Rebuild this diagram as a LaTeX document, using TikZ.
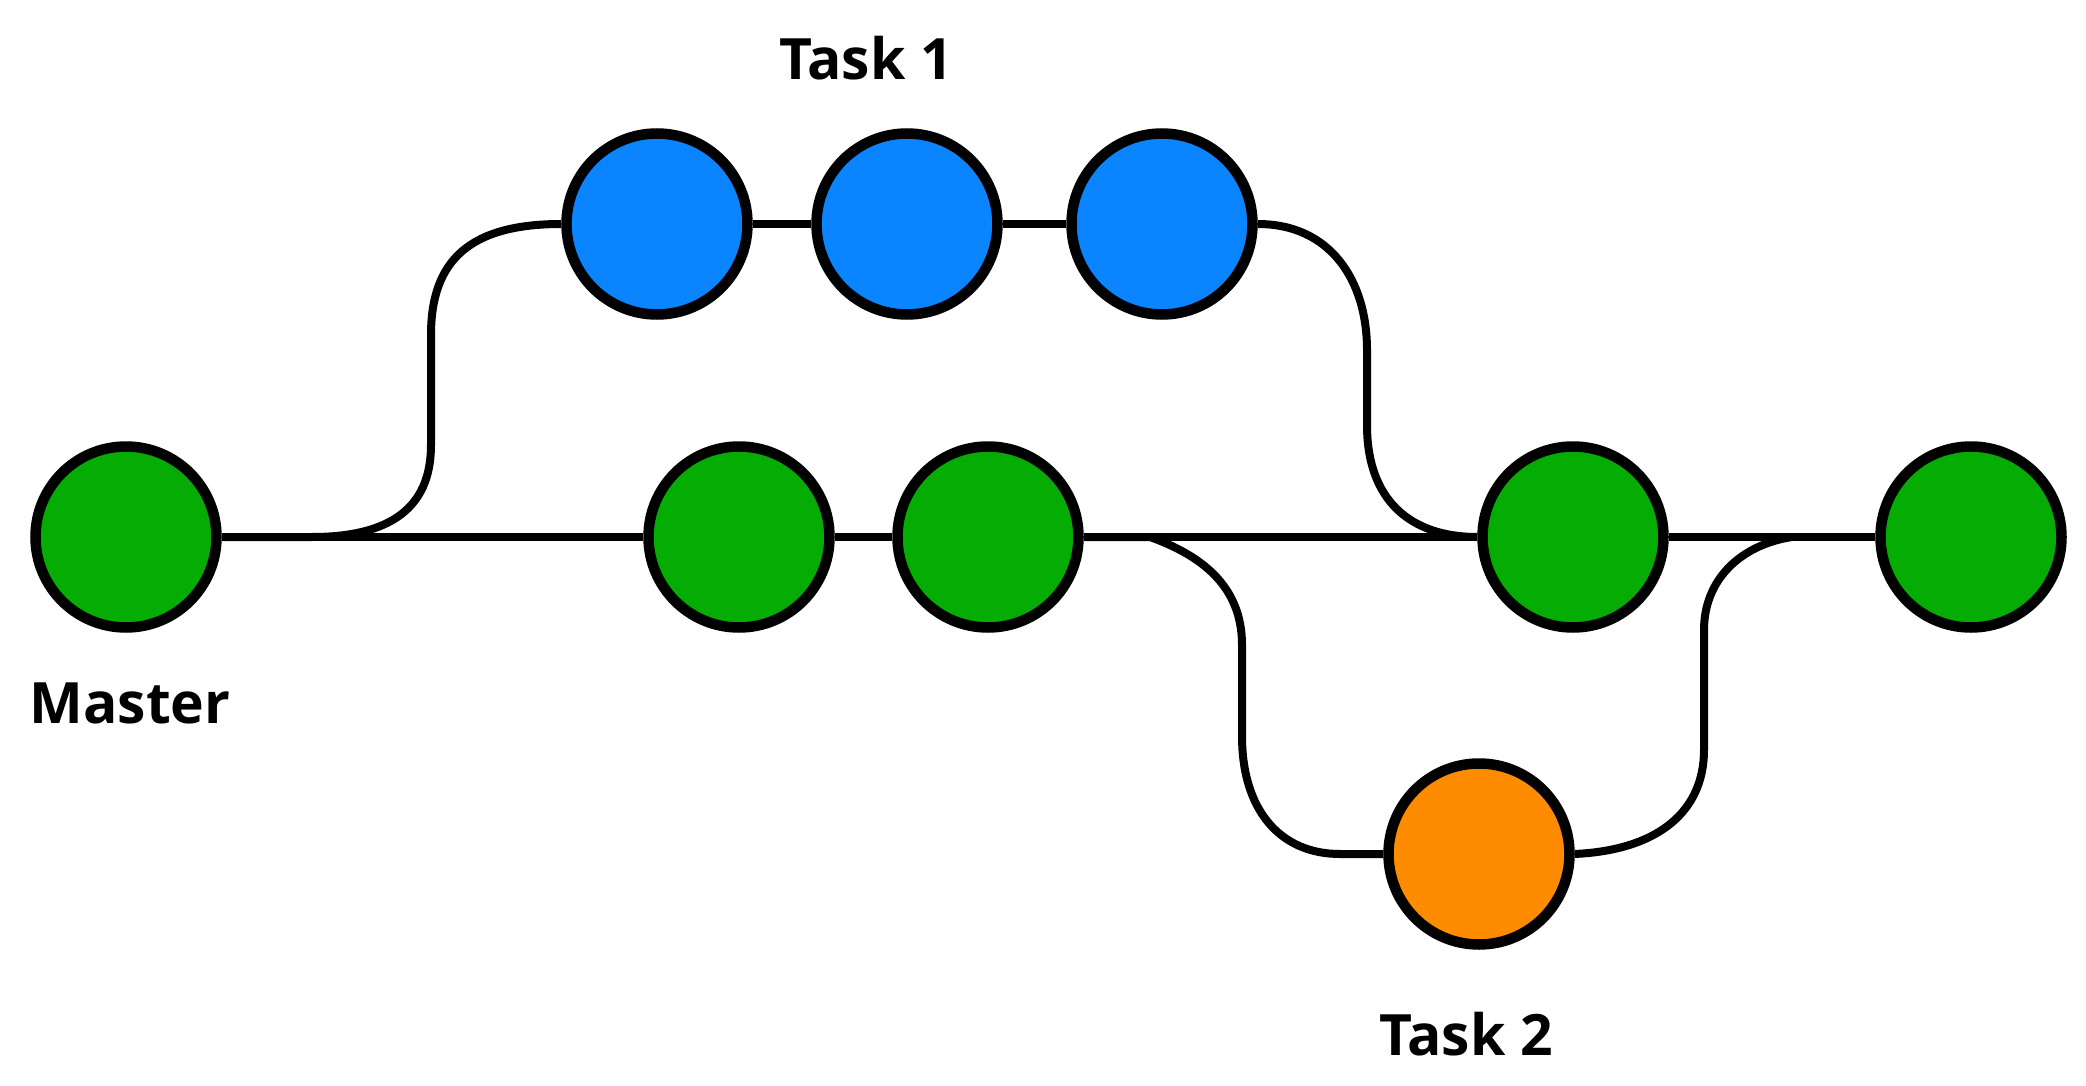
\documentclass[tikz,border=0pt]{standalone}
\usepackage{fontspec}
\newfontfamily\labelfont{Open Sans}
\definecolor{commitgreen}{RGB}{4,172,4}
\definecolor{commitblue}{RGB}{10,132,255}
\definecolor{commitorange}{RGB}{255,140,0}
\begin{document}
\begin{tikzpicture}[x=1pt,y=-1pt,
  commit/.style={circle,draw=black,line width=10.5pt,minimum size=181pt,inner sep=0pt},
  link/.style={draw=black,line width=8pt,line join=round},
  tag/.style={anchor=base,font=\labelfont\bfseries\fontsize{57}{70}\selectfont,inner sep=0pt}]
\useasboundingbox[fill=white] (0,0) rectangle (2086,1086);

% master branch
\node[commit,fill=commitgreen] (m)  at (126,537) {};
\node[commit,fill=commitgreen] (g2) at (739,537) {};
\node[commit,fill=commitgreen] (g3) at (988,537) {};
\node[commit,fill=commitgreen] (g4) at (1573,537) {};
\node[commit,fill=commitgreen] (g5) at (1971,537) {};
% task 1 branch
\node[commit,fill=commitblue] (t1a) at (657,224) {};
\node[commit,fill=commitblue] (t1b) at (907,224) {};
\node[commit,fill=commitblue] (t1c) at (1162,224) {};
% task 2 branch
\node[commit,fill=commitorange] (t2) at (1479,854) {};

% straight links
\draw[link] (m.east) -- (g2.west);
\draw[link] (g2.east) -- (g3.west);
\draw[link] (g3.east) -- (g4.west);
\draw[link] (g4.east) -- (g5.west);
\draw[link] (t1a.east) -- (t1b.west);
\draw[link] (t1b.east) -- (t1c.west);

% fork to task 1
\draw[link] (m.east) -- (312,537)
  .. controls (400,537) and (431,500) .. (431,445)
  -- (431,335)
  .. controls (431,260) and (470,224) .. (t1a.west);
% merge of task 1
\draw[link] (t1c.east)
  .. controls (1330,224) and (1367,280) .. (1367,350)
  -- (1367,425)
  .. controls (1367,500) and (1410,537) .. (g4.west);
% fork to task 2
\draw[link] (g3.east) -- (1150,537)
  .. controls (1200,555) and (1242,585) .. (1242,645)
  -- (1242,736)
  .. controls (1242,810) and (1280,854) .. (1340,854)
  -- (t2.west);
% merge of task 2
\draw[link] (t2.east)
  .. controls (1660,850) and (1704,810) .. (1704,750)
  -- (1704,630)
  .. controls (1704,580) and (1740,545) .. (1792,537);

% labels
\node[tag] (l1) at (866,80) {Task 1};
\node[tag] (lm) at (130,723) {Master};
\node[tag] (l2) at (1466,1055) {Task 2};
\end{tikzpicture}
\end{document}
